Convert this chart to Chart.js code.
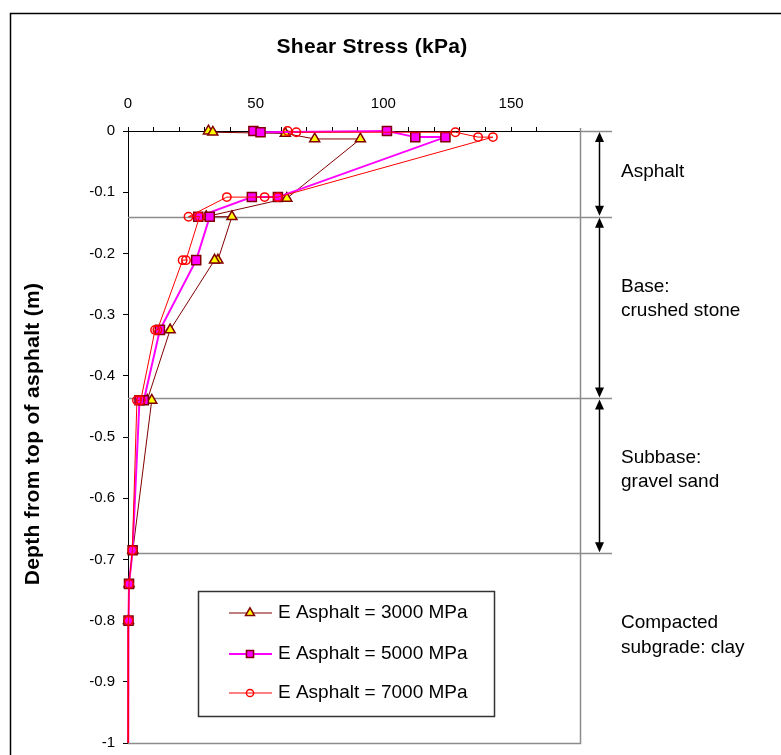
<!DOCTYPE html>
<html>
<head>
<meta charset="utf-8">
<script src="https://cdn.jsdelivr.net/npm/chart.js@4.4.1/dist/chart.umd.min.js"></script>
<style>
  html, body { margin: 0; padding: 0; background: #fff; overflow: hidden; }
  #chart { display: block; }
</style>
</head>
<body>
<canvas id="chart" width="781" height="755"></canvas>
<script>
// shear stress (kPa) against depth (m)
const stress3000 = [31.5, 33.2, 61.6, 73.1, 91.0, 62.2, 30.6, 40.7, 35.2, 33.9, 16.5, 7.5, 9.3, 1.9, 0.4, 0.2, 0.1];
const depth3000  = [0, -0.002, -0.004, -0.013, -0.013, -0.11, -0.14, -0.14, -0.211, -0.211, -0.325, -0.44, -0.44, -0.685, -0.74, -0.80, -1.0];

const stress5000 = [49.1, 51.9, 101.4, 112.5, 124.3, 58.7, 48.5, 27.5, 32.0, 26.7, 12.5, 6.2, 4.5, 1.8, 0.4, 0.2, 0.1];
const depth5000  = [0, -0.002, 0, -0.01, -0.01, -0.108, -0.108, -0.14, -0.14, -0.211, -0.325, -0.44, -0.44, -0.685, -0.74, -0.80, -1.0];

const stress7000 = [62.5, 65.9, 128.2, 137.1, 142.9, 58.7, 53.5, 38.7, 23.7, 28.0, 22.7, 21.4, 11.5, 10.6, 5.0, 3.5, 1.7, 0.4, 0.2, 0.1];
const depth7000  = [0, -0.002, -0.002, -0.01, -0.01, -0.108, -0.108, -0.108, -0.14, -0.14, -0.211, -0.211, -0.325, -0.325, -0.44, -0.44, -0.685, -0.74, -0.80, -1.0];

const seriesLabels = ['E Asphalt = 3000 MPa', 'E Asphalt = 5000 MPa', 'E Asphalt = 7000 MPa'];
const xLabels = [0, 50, 100, 150];
const layerDepths = [0, -0.14, -0.437, -0.69];
const layerNames = [['Asphalt'], ['Base:', 'crushed stone'], ['Subbase:', 'gravel sand'], ['Compacted', 'subgrade: clay']];

const FONT = '"Liberation Sans", Arial, sans-serif';
const pts = (xs, ys) => xs.map((v, i) => ({ x: v, y: ys[i] }));
// no marker on the last point (it sits on the -1 edge)
const radiusBut = (r, n) => c => (c.dataIndex === n - 1 ? 0 : r);

function drawMarker(ctx, style, x, y, r, fill, stroke, bw) {
    ctx.beginPath();
    if (style === 'triangle') {
        ctx.moveTo(x, y - r);
        ctx.lineTo(x + r * 0.866, y + r / 2);
        ctx.lineTo(x - r * 0.866, y + r / 2);
        ctx.closePath();
    } else if (style === 'rect') {
        const s = r * Math.SQRT1_2;
        ctx.rect(x - s, y - s, 2 * s, 2 * s);
    } else {
        ctx.arc(x, y, r, 0, Math.PI * 2);
    }
    ctx.fillStyle = fill;
    ctx.fill();
    ctx.lineWidth = bw;
    ctx.strokeStyle = stroke;
    ctx.stroke();
}

const decor = {
    id: 'decor',
    beforeDraw(chart) {
        const ctx = chart.ctx;
        ctx.save();
        ctx.fillStyle = '#fff';
        ctx.fillRect(0, 0, chart.width, chart.height);
        ctx.strokeStyle = '#000';
        ctx.lineWidth = 1.5;
        ctx.strokeRect(10.5, 13.5, chart.width, chart.height);
        ctx.restore();
    },
    beforeDatasetsDraw(chart) {
        const { ctx, chartArea: a, scales: { y } } = chart;
        ctx.save();
        ctx.strokeStyle = '#8c8c8c';
        ctx.lineWidth = 1.5;
        ctx.beginPath();
        ctx.moveTo(a.right + 0.5, a.top - 3);
        ctx.lineTo(a.right + 0.5, a.bottom + 0.5);
        ctx.lineTo(a.left, a.bottom + 0.5);
        ctx.stroke();
        layerDepths.forEach((d, i) => {
            const py = Math.round(y.getPixelForValue(d)) + 0.5;
            ctx.beginPath();
            ctx.moveTo(i === 0 ? a.right : a.left, py);
            ctx.lineTo(a.right + 32, py);
            ctx.stroke();
        });
        ctx.restore();
    },
    afterDraw(chart) {
        const { ctx, chartArea: a, scales: { y } } = chart;
        ctx.save();

        // titles
        ctx.fillStyle = '#000';
        ctx.textAlign = 'center';
        ctx.textBaseline = 'middle';
        ctx.font = 'bold 21px ' + FONT;
        ctx.letterSpacing = '0.3px';
        ctx.fillText('Shear Stress (kPa)', 372, 47);
        ctx.save();
        ctx.translate(33, 434);
        ctx.rotate(-Math.PI / 2);
        ctx.fillText('Depth from top of asphalt (m)', 0, 0);
        ctx.restore();
        ctx.letterSpacing = '0px';

        // layer arrows
        const ax = a.right + 19.5;
        ctx.strokeStyle = '#000';
        ctx.fillStyle = '#000';
        ctx.lineWidth = 1.5;
        for (let i = 0; i < layerDepths.length - 1; i++) {
            const t = y.getPixelForValue(layerDepths[i]) + 1;
            const b = y.getPixelForValue(layerDepths[i + 1]) - 1;
            ctx.beginPath();
            ctx.moveTo(ax, t + 6);
            ctx.lineTo(ax, b - 6);
            ctx.stroke();
            ctx.beginPath();
            ctx.moveTo(ax, t); ctx.lineTo(ax - 4.5, t + 10); ctx.lineTo(ax + 4.5, t + 10); ctx.closePath();
            ctx.moveTo(ax, b); ctx.lineTo(ax - 4.5, b - 10); ctx.lineTo(ax + 4.5, b - 10); ctx.closePath();
            ctx.fill();
        }

        // layer names
        ctx.textAlign = 'left';
        ctx.font = '19px ' + FONT;
        const nameY = [[172], [287, 311], [458, 482], [623, 648]];
        layerNames.forEach((lines, i) => {
            lines.forEach((s, j) => ctx.fillText(s, 621, nameY[i][j]));
        });

        // legend
        ctx.strokeStyle = '#333';
        ctx.lineWidth = 1.5;
        ctx.strokeRect(198.5, 591.5, 296, 125);
        const rowY = [613, 654, 693];
        const legR = [5.2, 5, 3.6];
        chart.data.datasets.forEach((ds, i) => {
            const ly = rowY[i];
            ctx.strokeStyle = ds.borderColor;
            ctx.lineWidth = ds.borderWidth;
            ctx.beginPath();
            ctx.moveTo(229, ly);
            ctx.lineTo(272, ly);
            ctx.stroke();
            drawMarker(ctx, ds.pointStyle, 250, ly, legR[i], ds.pointBackgroundColor, ds.pointBorderColor, 1.5);
            ctx.fillStyle = '#000';
            ctx.font = '19px ' + FONT;
            ctx.fillText(ds.label, 278, ly);
        });
        ctx.restore();
    }
};

new Chart(document.getElementById('chart'), {
    type: 'scatter',
    data: {
        datasets: [
            {
                label: seriesLabels[0],
                data: pts(stress3000, depth3000),
                showLine: true,
                clip: false,
                borderColor: '#800000',
                borderWidth: 1,
                pointStyle: 'triangle',
                pointRadius: radiusBut(5.8, stress3000.length),
                pointBackgroundColor: '#ffff00',
                pointBorderColor: '#800000',
                pointBorderWidth: 1.5,
                order: 2
            },
            {
                label: seriesLabels[1],
                data: pts(stress5000, depth5000),
                showLine: true,
                clip: false,
                borderColor: '#ff00ff',
                borderWidth: 2,
                pointStyle: 'rect',
                pointRadius: radiusBut(6.4, stress5000.length),
                pointBackgroundColor: '#ff00ff',
                pointBorderColor: '#800000',
                pointBorderWidth: 1.5,
                order: 1
            },
            {
                label: seriesLabels[2],
                data: pts(stress7000, depth7000),
                showLine: true,
                clip: false,
                borderColor: '#ff0000',
                borderWidth: 1,
                pointStyle: 'circle',
                pointRadius: radiusBut(4.2, stress7000.length),
                pointBackgroundColor: 'rgba(255,255,255,0)',
                pointBorderColor: '#ff0000',
                pointBorderWidth: 1.5,
                order: 0
            }
        ]
    },
    options: {
        responsive: false,
        animation: false,
        events: [],
        layout: { padding: { top: 0, left: 10, right: 201, bottom: 12 } },
        plugins: { legend: { display: false }, tooltip: { enabled: false }, title: { display: false } },
        scales: {
            x: {
                type: 'linear',
                position: 'top',
                min: 0,
                max: 177,
                afterBuildTicks: s => { s.ticks = s.ticks.filter(t => t.value % 10 === 0); },
                afterFit: s => { s.height = 131; s.paddingLeft = 0; s.paddingRight = 0; },
                ticks: {
                    stepSize: 10,
                    autoSkip: false,
                    maxRotation: 0,
                    padding: 14,
                    color: '#000',
                    font: { family: FONT, size: 15 },
                    callback: v => (xLabels.includes(v) ? String(v) : '')
                },
                grid: { drawOnChartArea: false, drawTicks: true, tickLength: 4, color: '#000' },
                border: { color: '#000', width: 1 }
            },
            y: {
                type: 'linear',
                min: -1,
                max: 0,
                afterFit: s => { s.width = 118; s.paddingTop = 0; s.paddingBottom = 0; },
                ticks: {
                    stepSize: 0.1,
                    padding: 8,
                    color: '#000',
                    font: { family: FONT, size: 15 },
                    callback: v => String(Number(v.toFixed(1)))
                },
                grid: { drawOnChartArea: false, drawTicks: true, tickLength: 5, color: '#000' },
                border: { color: '#000', width: 1 }
            }
        }
    },
    plugins: [decor]
});
</script>
</body>
</html>
